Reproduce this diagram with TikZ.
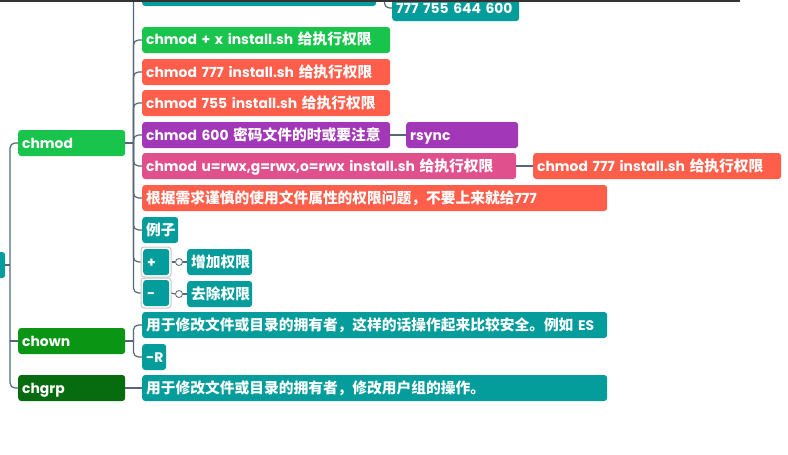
\documentclass[tikz,border=0pt]{standalone}
\usepackage{fontspec}
\setmainfont{Poppins}
\newfontfamily\cjk{Noto Sans CJK SC}[Scale=1.06]
\definecolor{cgreen}{HTML}{19C44C}
\definecolor{cgreenb}{HTML}{0A9614}
\definecolor{cgreenc}{HTML}{076C10}
\definecolor{corange}{HTML}{FF5E4B}
\definecolor{cpurple}{HTML}{A237B8}
\definecolor{cpink}{HTML}{E0508C}
\definecolor{cteal}{HTML}{059C9C}
\definecolor{cline}{HTML}{56677A}
\newcommand\tx[1]{\mbox{#1}}
\tikzset{
  box/.style={rectangle, rounded corners=3pt, text=white, anchor=west, minimum height=26pt,
    inner xsep=4pt, inner ysep=0pt, align=left, font=\fontsize{13.9}{16}\selectfont\bfseries,
    text height=12pt, text depth=2pt},
  conn/.style={draw=cline, line width=1.2pt},
  selbox/.style={rectangle, rounded corners=3pt, draw=black!22, line width=1pt, anchor=center, inner sep=0pt},
}
\begin{document}
\begin{tikzpicture}[x=1pt,y=-1pt]
\useasboundingbox (0,0) rectangle (788,455);
\clip (0,0) rectangle (788,455);
\fill[white] (0,0) rectangle (788,455);
% level 1
\node[box, fill=cteal, text width=22pt] (root) at (-25,265) {};
\node[box, fill=cgreen, text width=99pt] (chmod) at (18,143) {\tx{chmod}};
\node[box, fill=cgreenb, text width=99pt] (chown) at (18,341) {\tx{chown}};
\node[box, fill=cgreenc, text width=99pt] (chgrp) at (18,388) {\tx{chgrp}};
% chmod children
\node[box, fill=cteal, text width=226pt] (top) at (142,-7) {};
\node[box, fill=cteal, text width=119pt] (n777) at (392,8) {\tx{777 755 644 600}};
\node[box, fill=cgreen, text width=240pt] (n2) at (142,40) {\tx{chmod + x install.sh {\cjk 给执行权限}}};
\node[box, fill=corange, text width=240pt] (n3) at (142,72) {\tx{chmod 777 install.sh {\cjk 给执行权限}}};
\node[box, fill=corange, text width=240pt] (n4) at (142,103) {\tx{chmod 755 install.sh {\cjk 给执行权限}}};
\node[box, fill=cpurple, text width=240pt] (n5) at (142,135) {\tx{chmod 600 {\cjk 密码文件的时或要注意}}};
\node[box, fill=cpurple, text width=104pt] (rsync) at (406,135) {\tx{rsync}};
\node[box, fill=cpink, text width=366pt] (n6) at (142,166) {\tx{chmod u=rwx,g=rwx,o=rwx install.sh {\cjk 给执行权限}}};
\node[box, fill=corange, text width=240pt] (n6c) at (533,166) {\tx{chmod 777 install.sh {\cjk 给执行权限}}};
\node[box, fill=corange, text width=457pt] (n7) at (142,198) {\tx{{\cjk 根据需求谨慎的使用文件属性的权限问题，不要上来就给}777}};
\node[box, fill=cteal, text width=28pt] (n8) at (142,230) {\tx{\cjk 例子}};
\node[selbox, minimum width=30pt, minimum height=30pt] (plusbox) at (156,262) {};
\node[box, fill=cteal, text width=18pt] (plus) at (143,262) {\tx{+}};
\node[selbox, minimum width=30pt, minimum height=30pt] (minusbox) at (156,293) {};
\node[box, fill=cteal, text width=18pt] (minus) at (143,293) {\tx{-}};
\node[box, fill=cteal, text width=57pt] (add) at (187,262) {\tx{\cjk 增加权限}};
\node[box, fill=cteal, text width=57pt] (del) at (187,294) {\tx{\cjk 去除权限}};
\node[circle, draw=cline, fill=white, line width=0.8pt, minimum size=7pt, inner sep=0pt] (c1) at (179,262) {};
\node[circle, draw=cline, fill=white, line width=0.8pt, minimum size=7pt, inner sep=0pt] (c2) at (179,294) {};
% chown / chgrp children
\node[box, fill=cteal, text width=457pt] (o1) at (142,325) {\tx{{\cjk 用于修改文件或目录的拥有者，这样的话操作起来比较安全。例如} ES}};
\node[box, fill=cteal, text width=16pt] (oR) at (142,357) {\tx{-R}};
\node[box, fill=cteal, text width=457pt] (g1) at (142,388) {\tx{\cjk 用于修改文件或目录的拥有者，修改用户组的操作。}};
% connectors
\draw[conn, rounded corners=5pt] (chmod.west) -- ++(-8,0) coordinate (tr) |- (chgrp.west);
\draw[conn] (chown.west) -- (chown.west -| tr);
\draw[conn] (root.east) -- (root.east -| tr);
\draw[conn] (chmod.east) -- ++(8,0) coordinate (cb);
\foreach \c in {top,n2,n3,n4,n5,n6,n7,n8,plusbox,minusbox}
  \draw[conn, rounded corners=5pt] (cb) |- (\c.west);
\draw[conn, rounded corners=5pt] (top.east) -- ++(8,0) |- (n777.west);
\draw[conn] (n5.east) -- (rsync.west);
\draw[conn] (n6.east) -- (n6c.west);
\draw[conn] (plusbox.east) -- (c1.west);
\draw[conn] (c1.east) -- (add.west);
\draw[conn] (minusbox.east) -- (c2.west);
\draw[conn] (c2.east) -- (del.west);
\draw[conn] (chown.east) -- ++(8,0) coordinate (cb2);
\draw[conn, rounded corners=5pt] (cb2) |- (o1.west);
\draw[conn, rounded corners=5pt] (cb2) |- (oR.west);
\draw[conn] (chgrp.east) -- (g1.west);
% top border line
\fill[black!80] (0,0) rectangle (740,1.8);
\end{tikzpicture}
\end{document}
